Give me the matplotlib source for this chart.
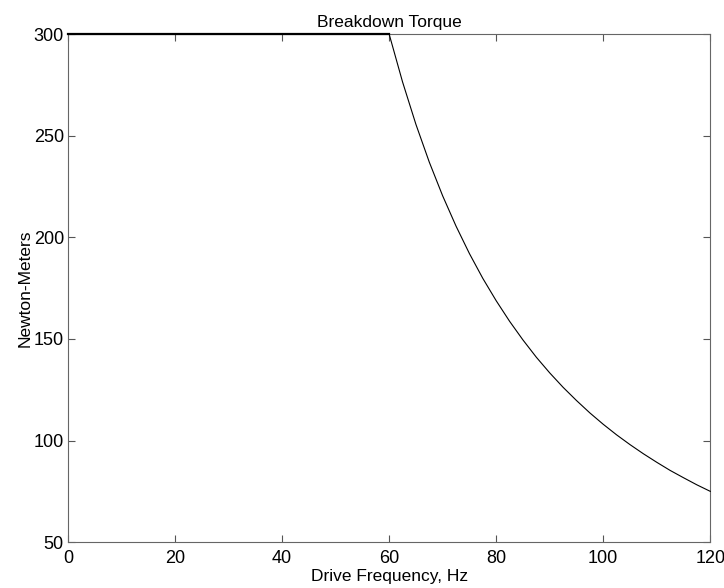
import matplotlib
matplotlib.use("Agg")
import matplotlib.pyplot as plt

# Values
freq = [0, 10, 20, 30, 40, 50, 60, 62.5, 65, 67.5, 70, 72.5, 75, 77.5, 80, 82.5, 85,
        87.5, 90, 92.5, 95, 97.5, 100, 102.5, 105, 107.5, 110, 112.5, 115, 117.5, 120]
torque = [300, 300, 300, 300, 300, 300, 300, 276.5, 255.6, 237, 220.4, 205.5, 192,
          179.8, 168.8, 158.7, 149.5, 141, 133.3, 126.2, 119.7, 113.6, 108, 102.8, 98,
          93.5, 89.3, 85.3, 81.7, 78.2, 75]

plt.rcParams['font.family'] = ['Liberation Sans', 'DejaVu Sans']

fig = plt.figure(figsize=(7.24, 5.88), dpi=100)
ax = fig.add_axes([0.094, 0.078, 0.887, 0.864])
ax.plot(freq, torque, color='black', linewidth=0.8, clip_on=False, zorder=5)
# flat part sits on the top border and looks heavier there
ax.plot(freq[:7], torque[:7], color='black', linewidth=1.6, clip_on=False, zorder=5)

ax.set_xlim(0, 120)
ax.set_ylim(50, 300)
ax.set_xticks([0, 20, 40, 60, 80, 100, 120])
ax.set_yticks([50, 100, 150, 200, 250, 300])
ax.tick_params(direction='in', top=True, right=True, labelsize=13, length=5,
               color='#555555', pad=3)
ax.tick_params(axis='x', pad=6)
for s in ax.spines.values():
    s.set_color('#666666')
    s.set_linewidth(0.8)

ax.set_title("Breakdown Torque", fontsize=12.5, pad=5)
ax.set_xlabel("Drive Frequency, Hz", fontsize=12.5, labelpad=1)
ax.set_ylabel("Newton-Meters", fontsize=12.5, labelpad=1)

fig.savefig("out.png", dpi=100)
